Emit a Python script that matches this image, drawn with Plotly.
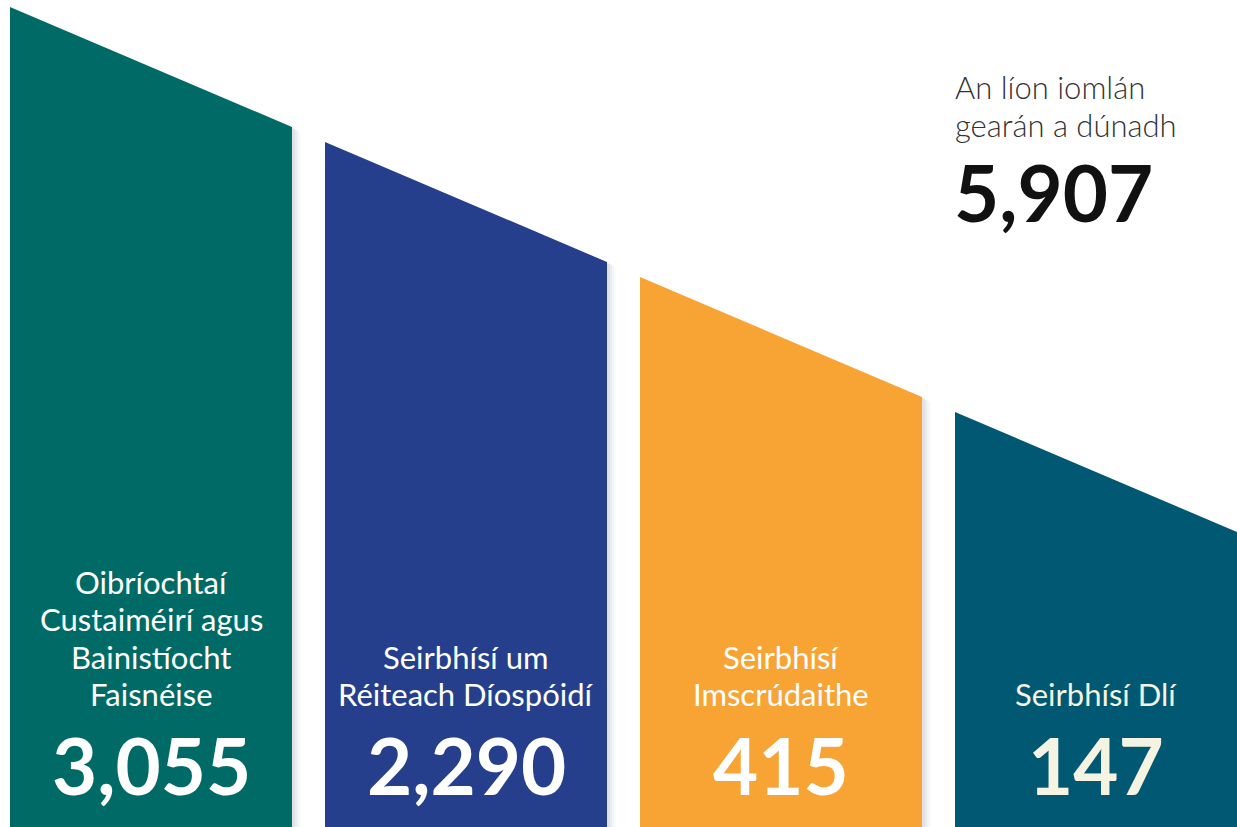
import plotly.graph_objects as go

# ---- data ----
categories = [
    "Oibríochtaí<br>Custaiméirí agus<br>Bainistíocht<br>Faisnéise",
    "Seirbhísí um<br>Réiteach Díospóidí",
    "Seirbhísí<br>Imscrúdaithe",
    "Seirbhísí Dlí",
]
values = [3055, 2290, 415, 147]
total_label = "An líon iomlán<br>gearán a dúnadh"
total_value = 5907

# ---- style ----
W, H = 1237, 827
colors = ["#006B66", "#263F8C", "#F8A435", "#015872"]
text_colors = ["#FFFFFF", "#FFFFFF", "#FFFFFF", "#F5F3E1"]
x0, bar_w, step = 10, 282, 315
top0, top_step, slope_drop = 7, 135, 120
label_last_y, line_h, num_y = 694, 37.3, 765
FONT = "Lato"

fig = go.Figure()

for i, (cat, val) in enumerate(zip(categories, values)):
    left = x0 + i * step
    right = left + bar_w
    ytl = top0 + i * top_step
    ytr = ytl + slope_drop
    # soft shadow
    for k, a in [(9, 0.025), (7, 0.035), (5, 0.045), (3, 0.06)]:
        fig.add_trace(go.Scatter(
            x=[left + k * 0.4, right + k, right + k, left + k * 0.4, left + k * 0.4],
            y=[ytl + k * 0.6, ytr + k * 0.6, H + 20, H + 20, ytl + k * 0.6],
            fill="toself", mode="lines", line=dict(width=0),
            fillcolor=f"rgba(60,70,90,{a})", hoverinfo="skip", showlegend=False))
    fig.add_trace(go.Scatter(
        x=[left, right, right, left, left],
        y=[ytl, ytr, H + 20, H + 20, ytl],
        fill="toself", mode="lines", line=dict(width=0),
        fillcolor=colors[i], hoverinfo="skip", showlegend=False))
    cx = (left + right) / 2
    lines = cat.split("<br>")
    n = len(lines)
    for j, ln in enumerate(lines):
        fig.add_annotation(x=cx, y=label_last_y - (n - 1 - j) * line_h, text=ln,
                           showarrow=False, xanchor="center", yanchor="middle",
                           font=dict(family=FONT, size=31, color=text_colors[i]))
    fig.add_annotation(x=cx, y=num_y, text=f"<b>{val:,}</b>", showarrow=False,
                       xanchor="center", yanchor="middle",
                       font=dict(family=FONT, size=78, color=text_colors[i]))

# total
for j, ln in enumerate(total_label.split("<br>")):
    fig.add_annotation(x=953, y=87 + j * 38, text=ln, showarrow=False,
                       xanchor="left", yanchor="middle",
                       font=dict(family=FONT, size=31, color="#333333", weight=300))
fig.add_annotation(x=952, y=192, text=f"<b>{total_value:,}</b>", showarrow=False,
                   xanchor="left", yanchor="middle",
                   font=dict(family=FONT, size=78, color="#111111"))

fig.update_layout(
    width=W, height=H, margin=dict(l=0, r=0, t=0, b=0),
    paper_bgcolor="white", plot_bgcolor="white",
    xaxis=dict(range=[0, W], visible=False, fixedrange=True),
    yaxis=dict(range=[H, 0], visible=False, fixedrange=True),
    showlegend=False,
)
fig.write_html(
    "out.html",
    config={"displayModeBar": False, "staticPlot": True},
    post_script="document.body.style.margin='0';document.body.style.overflow='hidden';",
)
